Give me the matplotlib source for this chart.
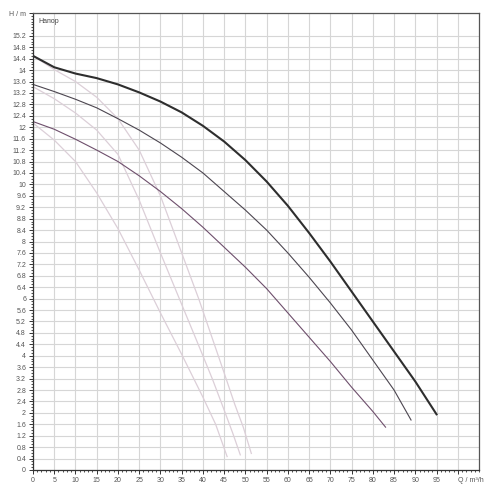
import numpy as np
import matplotlib.pyplot as plt
from matplotlib.ticker import MultipleLocator, FixedLocator

# pump curves, Q in m3/h, H in m
q_max = [0, 5, 10, 15, 20, 25, 30, 35, 40, 45, 50, 55, 60, 65, 70, 75, 80, 85, 90, 95]
h_max = [14.5, 14.1, 13.88, 13.72, 13.5, 13.22, 12.9, 12.52, 12.05, 11.5,
         10.85, 10.1, 9.25, 8.3, 7.3, 6.25, 5.2, 4.15, 3.1, 1.95]

q_mid = [0, 5, 10, 15, 20, 25, 30, 35, 40, 45, 50, 55, 60, 65, 70, 75, 80, 85, 89]
h_mid = [13.5, 13.25, 12.98, 12.68, 12.3, 11.9, 11.45, 10.95, 10.4, 9.75,
         9.1, 8.4, 7.6, 6.75, 5.85, 4.9, 3.85, 2.8, 1.75]

q_min = [0, 5, 10, 15, 20, 25, 30, 35, 40, 45, 50, 55, 60, 65, 70, 75, 80, 83]
h_min = [12.2, 11.93, 11.58, 11.2, 10.8, 10.3, 9.75, 9.15, 8.5, 7.8,
         7.1, 6.35, 5.5, 4.65, 3.8, 2.9, 2.05, 1.5]

# light curves
q_a = [0, 5, 10, 15, 20, 25, 30, 35, 39, 42, 45, 47.5, 49.5, 51.4]
h_a = [14.5, 14.02, 13.6, 13.05, 12.3, 11.2, 9.6, 7.6, 6.0, 4.7, 3.4, 2.3, 1.5, 0.58]

q_b = [0, 5, 10, 15, 20, 25, 30, 35, 40, 42.3, 45, 47, 48.8]
h_b = [13.42, 13.0, 12.5, 11.9, 11.05, 9.45, 7.6, 5.8, 4.0, 3.16, 2.1, 1.3, 0.53]

q_c = [0, 5, 10, 15, 20, 25, 30, 35, 40, 43, 45.7]
h_c = [12.15, 11.55, 10.8, 9.7, 8.45, 7.0, 5.5, 4.05, 2.55, 1.6, 0.47]

x_ticks = list(range(0, 100, 5))
y_ticks = [round(0.4 * i, 1) for i in range(39)]

plt.rcParams.update({'font.family': ['Liberation Sans', 'DejaVu Sans'], 'font.size': 5})

fig = plt.figure(figsize=(5, 5), dpi=100)
ax = fig.add_axes([0.066, 0.06, 0.892, 0.914])

light = '#dccfd8'
ax.plot(q_a, h_a, color=light, lw=0.9)
ax.plot(q_b, h_b, color=light, lw=0.9)
ax.plot(q_c, h_c, color=light, lw=0.9)
ax.plot(q_min, h_min, color='#6e4f6c', lw=0.8)
ax.plot(q_mid, h_mid, color='#4c4650', lw=0.8)
ax.plot(q_max, h_max, color='#2e2e2e', lw=1.5)

ax.set_xlim(0, 105)
ax.set_ylim(0, 16)

ax.xaxis.set_major_locator(FixedLocator(x_ticks + [100]))
ax.set_xticklabels([str(v) for v in x_ticks] + ['Q / m³/h'])
ax.get_xticklabels()[-1].set_horizontalalignment('left')
ax.set_yticks(y_ticks + [16])
ax.set_yticklabels(['%g' % v for v in y_ticks] + ['H / m'])
ax.xaxis.set_minor_locator(MultipleLocator(1))
ax.yaxis.set_minor_locator(MultipleLocator(0.1))

ax.tick_params(which='major', direction='out', length=3, width=0.7,
               colors='#333333', labelcolor='#555555', pad=2)
ax.tick_params(which='minor', direction='out', length=1.6, width=0.6, colors='#333333')

ax.grid(True, which='major', color='#d6d6d6', lw=0.8)
ax.set_axisbelow(True)

for s in ax.spines.values():
    s.set_color('#555555')
    s.set_linewidth(0.9)
ax.spines['left'].set_color('#333333')
ax.spines['bottom'].set_color('#333333')

ax.text(0.012, 0.988, 'Напор', transform=ax.transAxes, ha='left', va='top',
        fontsize=5, color='#444444')

fig.savefig('out.png', dpi=100)
